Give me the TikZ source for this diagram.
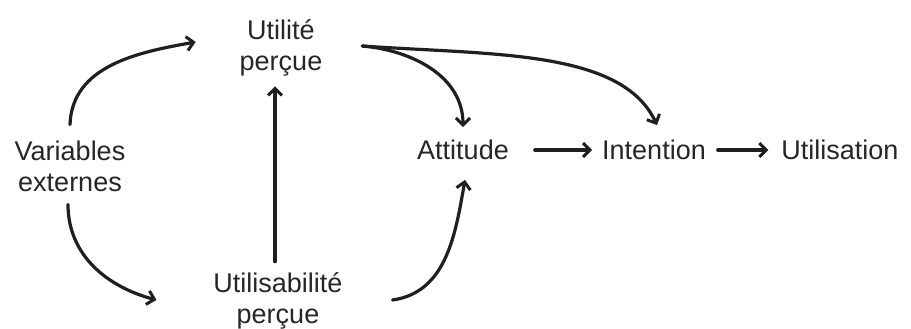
\documentclass[tikz,border=0pt]{standalone}
\usepackage{fontspec}
\setmainfont{Liberation Sans}
\usetikzlibrary{arrows.meta}

\begin{document}
\begin{tikzpicture}[x=1pt, y=1pt,
		lbl/.style={inner sep=0pt, outer sep=0pt, align=center, text=black!85,
			font=\fontsize{27}{31}\selectfont},
		fl/.style={-{Straight Barb[length=7pt,width=14pt,line width=3pt]}, line width=3.2pt,
			line cap=round, draw=black!88}]
			\useasboundingbox (0,0) rectangle (911,329);
			\node[lbl] (ve) at (70,163) {Variables\\externes};
			\node[lbl] (up) at (281,281) {Utilit\'e\\per\c cue};
			\node[lbl] (us) at (278,28) {Utilisabilit\'e\\per\c cue};
			\node[lbl] (att) at (463,179) {Attitude};
			\node[lbl] (int) at (654,179) {Intention};
			\node[lbl] (uti) at (840,179) {Utilisation};
			\draw[fl] ([yshift=16]ve.north) to[out=88, in=190] ([xshift=-44,yshift=6]up.west);
			\draw[fl] ([xshift=-2,yshift=-13]ve.south) to[out=-90, in=165] ([xshift=-57,yshift=1]us.west);
			\draw[fl] ([xshift=-3,yshift=11]us.north) -- ([xshift=-6,yshift=-10]up.south);
			\draw[fl] ([xshift=50,yshift=1]us.east) to[out=8, in=-100] ([xshift=2,yshift=-20]att.south);
			\draw[fl] ([xshift=40,yshift=2]up.east) to[out=-5, in=90] ([yshift=13]att.north);
			\draw[fl] ([xshift=40,yshift=2]up.east) to[out=-4, in=115, out looseness=1.1, in looseness=0.7] ([xshift=3,yshift=15]int.north);
			\draw[fl] ([xshift=26]att.east) -- ([xshift=-10]int.west);
			\draw[fl] ([xshift=12]int.east) -- ([xshift=-13]uti.west);
		\end{tikzpicture}
\end{document}
